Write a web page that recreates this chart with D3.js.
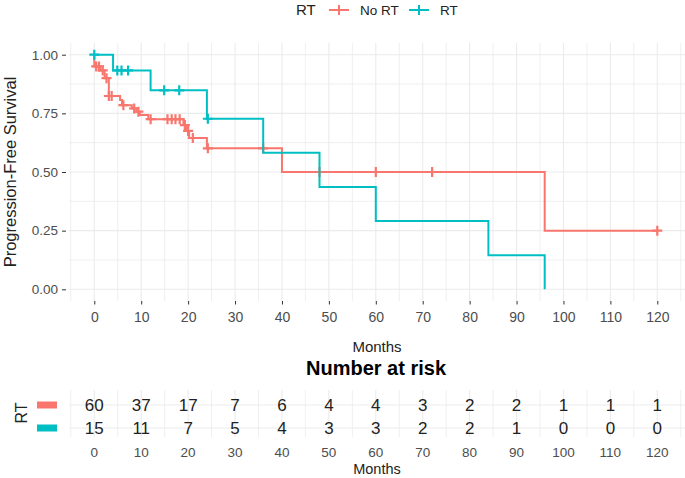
<!DOCTYPE html>
<html lang="en">
    <head>
        <meta charset="utf-8">
        <title>Progression-free survival by RT</title>
        <style>
            body { margin: 0; background: #fff; }
            svg text { font-family: "Liberation Sans", Arial, sans-serif; }
        </style>
    </head>
    <body>
        <div id="chart"></div>
        <script src="https://d3js.org/d3.v7.min.js"></script>
        <script>
            // Kaplan-Meier steps
            const noRtTime = [0, 0, 1.3, 2.2, 3.1, 5.5, 5.9, 8.0, 9.0, 9.7, 11.5, 19.0, 19.6, 20.2, 24, 40, 96, 120];
            const noRtSurv = [1, 0.95, 0.933, 0.90, 0.824, 0.807, 0.785, 0.771, 0.757, 0.743, 0.725, 0.70, 0.675, 0.645, 0.601, 0.50, 0.25, 0.25];
            const noRtCensor = [0.4, 1.0, 1.8, 2.6, 3.1, 3.7, 6.2, 8.5, 9.4, 12.0, 15.6, 16.5, 17.3, 18.2, 19.3, 20.0, 21.0, 24.2, 36, 48, 60, 72, 120];

            const rtTime = [0, 4, 12, 24, 36, 48, 60, 84, 96];
            const rtSurv = [1, 0.933, 0.848, 0.727, 0.582, 0.436, 0.291, 0.145, 0];
            const rtCensor = [0, 4.9, 5.8, 7.2, 14.9, 18.1, 24.2];

            const groups = ["No RT", "RT"];
            const colors = ["#F8766D", "#00BFC4"];

            const riskTimes = [0, 10, 20, 30, 40, 50, 60, 70, 80, 90, 100, 110, 120];
            const riskNoRt = [60, 37, 17, 7, 6, 4, 4, 3, 2, 2, 1, 1, 1];
            const riskRt = [15, 11, 7, 5, 4, 3, 3, 2, 2, 1, 0, 0, 0];
            const yTicks = [0, 0.25, 0.5, 0.75, 1];

            const W = 685, H = 478;
            const panel = { left: 69, right: 685, top: 43, bottom: 301 };
            const grid = "#ebebeb";
            const ink = "#333";

            const svg = d3.select("#chart").append("svg")
                .attr("width", W).attr("height", H);

            const x = d3.scaleLinear().domain([0, 120]).range([94.3, 657.3]);
            const y = d3.scaleLinear().domain([0, 1]).range([289.3, 54.7]);
            const gridX = d3.range(-5, 126, 5).filter(v => x(v) >= panel.left && x(v) <= panel.right);

            // main panel grid
            const g = svg.append("g");
            g.selectAll(".vg").data(gridX).enter().append("line")
                .attr("x1", d => x(d)).attr("x2", d => x(d))
                .attr("y1", panel.top).attr("y2", panel.bottom)
                .attr("stroke", grid).attr("stroke-width", d => d % 10 === 0 ? 1.1 : 0.8);
            g.selectAll(".hg").data(d3.range(0, 1.001, 0.125)).enter().append("line")
                .attr("x1", panel.left).attr("x2", panel.right)
                .attr("y1", d => y(d)).attr("y2", d => y(d))
                .attr("stroke", grid).attr("stroke-width", (d, i) => i % 2 === 0 ? 1.1 : 0.8);

            // axes
            const yAxis = d3.axisLeft(y).tickValues(yTicks).tickFormat(d3.format(".2f")).tickSize(4).tickPadding(4);
            svg.append("g").attr("transform", `translate(66,0)`).call(yAxis)
                .call(a => a.select(".domain").remove())
                .call(a => a.selectAll("text").attr("font-size", 13.5).attr("fill", "#4d4d4d").style("font-family", "'Liberation Sans', Arial, sans-serif"))
                .call(a => a.selectAll("line").attr("stroke", ink));

            const xAxis = d3.axisBottom(x).tickValues(riskTimes).tickSize(3.5).tickPadding(8);
            svg.append("g").attr("transform", `translate(0,${panel.bottom})`).call(xAxis)
                .call(a => a.select(".domain").remove())
                .call(a => a.selectAll("text").attr("font-size", 14).attr("fill", "#4d4d4d").style("font-family", "'Liberation Sans', Arial, sans-serif"))
                .call(a => a.selectAll("line").attr("stroke", ink));

            svg.append("text").attr("x", 377).attr("y", 352)
                .attr("text-anchor", "middle").attr("font-size", 15).attr("fill", "#222").text("Months");
            svg.append("text").attr("transform", "translate(15.5,172) rotate(-90)")
                .attr("text-anchor", "middle").attr("font-size", 16.5).attr("fill", "#222").text("Progression-Free Survival");

            // curves
            const stepLine = d3.line().x(d => x(d[0])).y(d => y(d[1])).curve(d3.curveStepAfter);
            const series = [
                { time: noRtTime, surv: noRtSurv, censor: noRtCensor, color: colors[0] },
                { time: rtTime, surv: rtSurv, censor: rtCensor, color: colors[1] }
            ];
            function survAt(s, t) {
                const i = d3.bisectRight(s.time, t) - 1;
                return s.surv[Math.max(0, i)];
            }
            series.forEach(s => {
                const pts = s.time.map((t, i) => [t, s.surv[i]]);
                svg.append("path").attr("d", stepLine(pts))
                    .attr("fill", "none").attr("stroke", s.color).attr("stroke-width", 2);
                const c = svg.append("g");
                s.censor.forEach(t => {
                    const cx = x(t), cy = y(survAt(s, t));
                    c.append("path").attr("d", `M${cx - 5},${cy}H${cx + 5}M${cx},${cy - 5}V${cy + 5}`)
                        .attr("stroke", s.color).attr("stroke-width", 2.2);
                });
            });

            // legend
            const lg = svg.append("g");
            lg.append("text").attr("x", 296).attr("y", 15).attr("font-size", 15).attr("fill", "#222").text("RT");
            const legendX = [329, 409];
            groups.forEach((name, i) => {
                const lx = legendX[i], ly = 10;
                lg.append("path").attr("d", `M${lx},${ly}H${lx + 20}M${lx + 10},${ly - 5}V${ly + 5}`)
                    .attr("stroke", colors[i]).attr("stroke-width", 2);
                lg.append("text").attr("x", lx + 31).attr("y", 15).attr("font-size", 13.5).attr("fill", "#222").text(name);
            });

            // risk table
            const tb = { top: 390, bottom: 437 };
            const rowY = [405, 428];
            svg.append("text").attr("x", 376).attr("y", 375).attr("text-anchor", "middle")
                .attr("font-size", 20).attr("font-weight", "bold").attr("fill", "#000").text("Number at risk");
            const t = svg.append("g");
            t.selectAll(".tv").data(gridX).enter().append("line")
                .attr("x1", d => x(d)).attr("x2", d => x(d))
                .attr("y1", tb.top).attr("y2", tb.bottom)
                .attr("stroke", grid).attr("stroke-width", d => d % 10 === 0 ? 1.1 : 0.8);
            t.selectAll(".th").data(rowY).enter().append("line")
                .attr("x1", panel.left).attr("x2", panel.right)
                .attr("y1", d => d).attr("y2", d => d)
                .attr("stroke", grid).attr("stroke-width", 1.1);
            [riskNoRt, riskRt].forEach((row, r) => {
                t.selectAll(".n" + r).data(row).enter().append("text")
                    .attr("x", (d, i) => x(riskTimes[i])).attr("y", rowY[r] + 6)
                    .attr("text-anchor", "middle").attr("font-size", 17).attr("fill", "#222")
                    .text(d => d);
                t.append("rect").attr("x", 37).attr("y", rowY[r] - 3.5).attr("width", 20).attr("height", 7)
                    .attr("fill", colors[r]);
            });
            t.append("text").attr("transform", "translate(27,413) rotate(-90)")
                .attr("text-anchor", "middle").attr("font-size", 16).attr("fill", "#222").text("RT");
            t.selectAll(".tx").data(riskTimes).enter().append("text")
                .attr("x", d => x(d)).attr("y", 457).attr("text-anchor", "middle")
                .attr("font-size", 13.5).attr("fill", "#4d4d4d").text(d => d);
            t.append("text").attr("x", 377).attr("y", 474).attr("text-anchor", "middle")
                .attr("font-size", 14.5).attr("fill", "#222").text("Months");
        </script>
    </body>
</html>
